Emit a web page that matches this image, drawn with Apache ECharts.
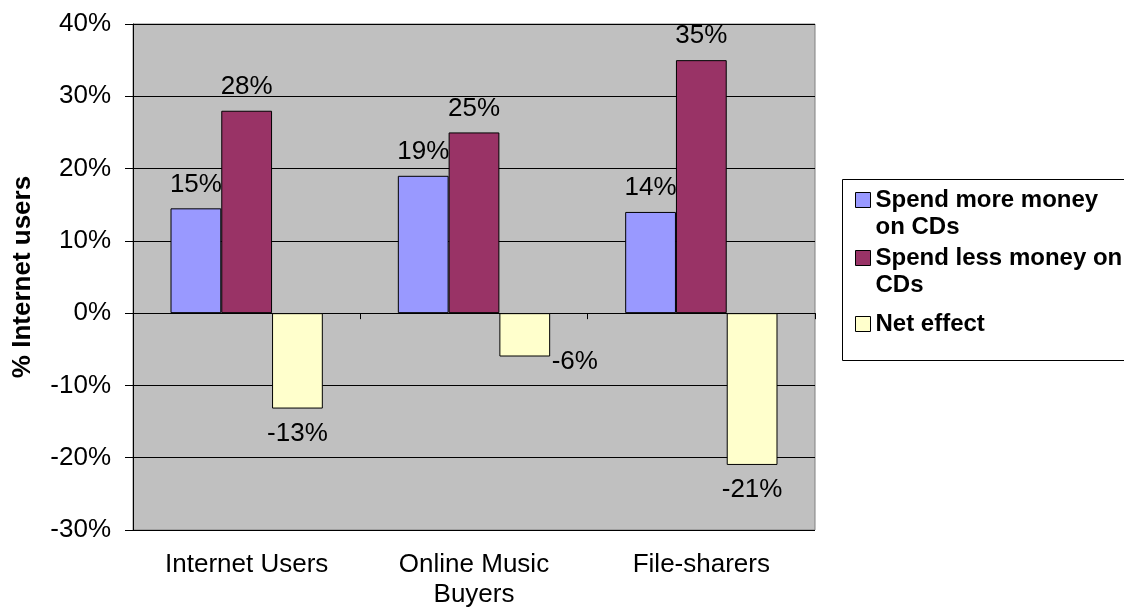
<!DOCTYPE html>
<html>
<head>
<meta charset="utf-8">
<script src="https://cdn.jsdelivr.net/npm/echarts@6/dist/echarts.min.js"></script>
<style>html,body{margin:0;padding:0;background:#fff}#c{width:1124px;height:612px}</style>
</head>
<body>
<div id="c"></div>
<script>
const categories = ['Internet Users', 'Online Music\nBuyers', 'File-sharers'];
const seriesNames = ['Spend more money on CDs', 'Spend less money on CDs', 'Net effect'];
const legendText = ['Spend more money\non CDs', 'Spend less money on\nCDs', 'Net effect'];
const spendMore = [14.5, 19, 14];
const spendLess = [28, 25, 35];
const netEffect = [-13.2, -6, -21];
const yTicks = { min: -30, max: 40, interval: 10 };

const FONT = 'Liberation Sans, Arial, sans-serif';
const colors = ['#9999FF', '#993366', '#FFFFCC'];
const labelStyle = { show: true, fontSize: 26, fontFamily: FONT, color: '#000',
  formatter: p => Math.round(p.value) + '%' };
// square icon at top of a taller box (aligns with first text line), and centred one
const iconTop = 'path://M0,0h15v15h-15Z M0,42';
const iconMid = 'path://M0,13.5h15v15h-15Z M0,0 M0,42';

const chart = echarts.init(document.getElementById('c'));
chart.setOption({
  animation: false,
  grid: { left: 133, right: 309, top: 24, bottom: 82, show: true,
    backgroundColor: '#C0C0C0', borderColor: '#808080', borderWidth: 1 },
  legend: {
    orient: 'vertical', left: 850, top: 181.5, itemWidth: 15, itemHeight: 42, itemGap: 4,
    itemStyle: { borderColor: '#000', borderWidth: 1 },
    formatter: name => legendText[seriesNames.indexOf(name)],
    textStyle: { fontSize: 24, fontWeight: 'bold', fontFamily: FONT, color: '#000', lineHeight: 27 },
    data: [
      { name: seriesNames[0], icon: iconTop },
      { name: seriesNames[1], icon: iconTop },
      { name: seriesNames[2], icon: iconMid }
    ]
  },
  graphic: [{ type: 'rect', shape: { x: 842.5, y: 179.5, width: 300, height: 181 },
    style: { fill: 'none', stroke: '#000', lineWidth: 1 }, z: 0 }],
  xAxis: [
    { type: 'category', data: categories,
      axisLine: { onZero: true, lineStyle: { color: '#000', width: 1 } },
      axisTick: { show: true, length: 6, lineStyle: { color: '#000' } },
      axisLabel: { show: false } },
    { type: 'category', data: categories, position: 'bottom',
      axisLine: { show: false }, axisTick: { show: false },
      axisLabel: { fontSize: 26, fontFamily: FONT, color: '#000', margin: 20, lineHeight: 30 } }
  ],
  yAxis: {
    type: 'value', min: yTicks.min, max: yTicks.max, interval: yTicks.interval,
    name: '% Internet users', nameLocation: 'middle', nameRotate: 90, nameGap: 97,
    nameTextStyle: { fontSize: 26, fontWeight: 'bold', fontFamily: FONT, color: '#000' },
    axisLine: { show: true, lineStyle: { color: '#000', width: 1 } },
    axisTick: { show: true, length: 8, lineStyle: { color: '#000' } },
    axisLabel: { formatter: '{value}%', fontSize: 26, fontFamily: FONT, color: '#000', margin: 22 },
    splitLine: { show: true, lineStyle: { color: '#000', width: 1 } }
  },
  series: [
    { name: seriesNames[0], type: 'bar', data: spendMore, barGap: '0%', barCategoryGap: '33%',
      itemStyle: { color: colors[0], borderColor: '#000', borderWidth: 1 },
      label: Object.assign({ position: 'top', distance: 11 }, labelStyle) },
    { name: seriesNames[1], type: 'bar', data: spendLess, barGap: '0%', barCategoryGap: '33%',
      itemStyle: { color: colors[1], borderColor: '#000', borderWidth: 1 },
      label: Object.assign({ position: 'top', distance: 11 }, labelStyle) },
    { name: seriesNames[2], type: 'bar', barGap: '0%', barCategoryGap: '33%',
      data: netEffect.map((v, i) => i === 1 ? { value: v, label: { offset: [50, -20] } } : v),
      itemStyle: { color: colors[2], borderColor: '#000', borderWidth: 1 },
      label: Object.assign({ position: 'bottom', distance: 12 }, labelStyle) }
  ]
});
</script>
</body>
</html>
